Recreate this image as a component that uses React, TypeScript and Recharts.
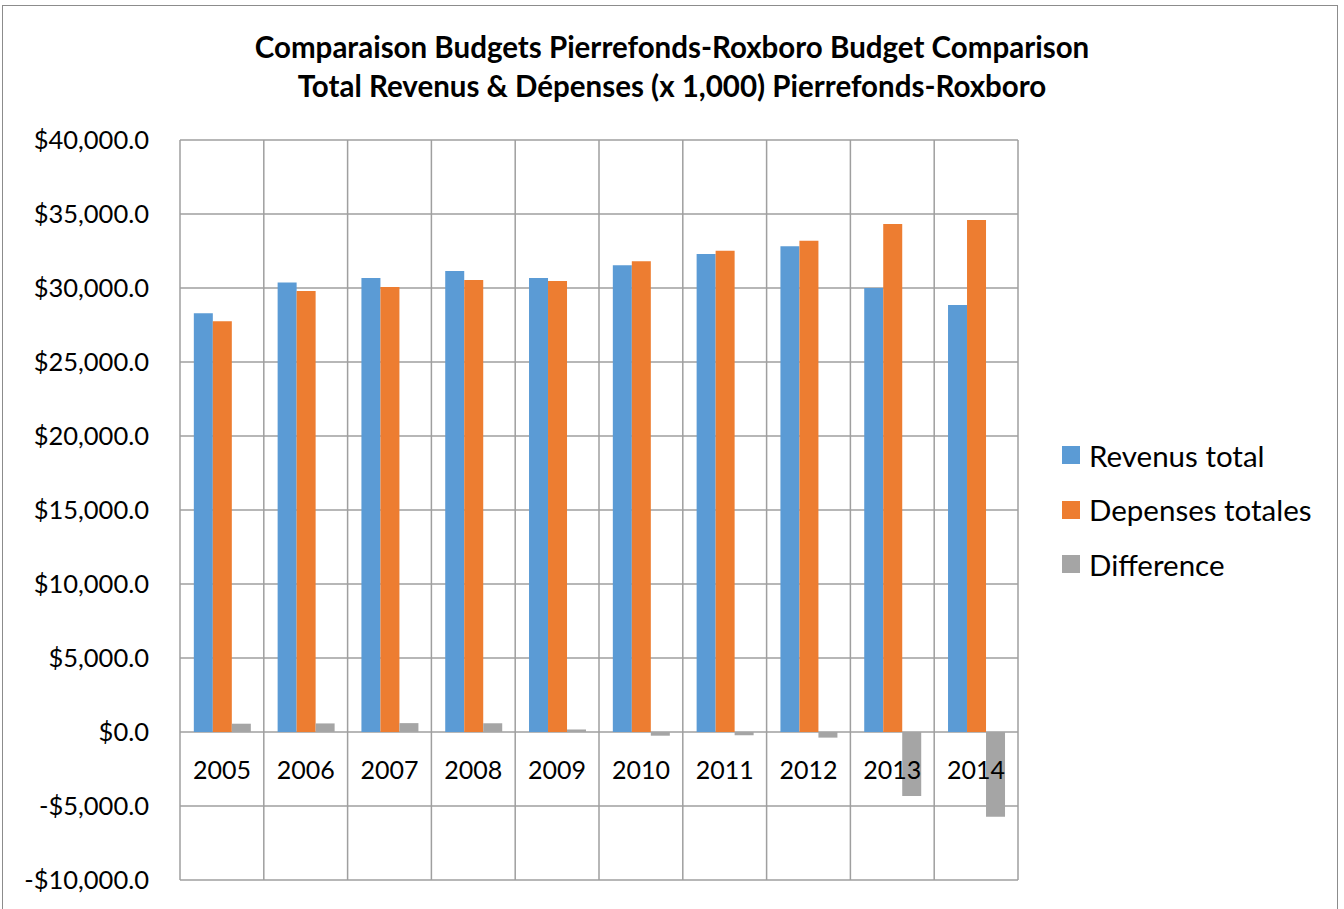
import React from 'react';
import {
  BarChart,
  Bar,
  XAxis,
  YAxis,
  CartesianGrid,
  Legend,
} from 'recharts';

const years = ['2005', '2006', '2007', '2008', '2009', '2010', '2011', '2012', '2013', '2014'];
const revenusTotal = [28300, 30380, 30680, 31150, 30680, 31530, 32300, 32820, 30000, 28850];
const depensesTotales = [27750, 29800, 30070, 30540, 30470, 31800, 32520, 33200, 34320, 34590];
const difference = [560, 580, 600, 590, 170, -250, -220, -380, -4330, -5730];
const yTicks = [-10000, -5000, 0, 5000, 10000, 15000, 20000, 25000, 30000, 35000, 40000];
const seriesOrder = ['revenus', 'depenses', 'difference'];

const data = years.map((year, i) => ({
  year,
  revenus: revenusTotal[i],
  depenses: depensesTotales[i],
  difference: difference[i],
}));

const W = 1344;
const H = 909;
const PLOT_TOP = 140;
const PLOT_BOTTOM = 880;
const PLOT_LEFT = 180;
const PLOT_RIGHT = 1018;
const Y_MIN = yTicks[0];
const Y_MAX = yTicks[yTicks.length - 1];
const ZERO_Y = PLOT_TOP + ((PLOT_BOTTOM - PLOT_TOP) * Y_MAX) / (Y_MAX - Y_MIN);

const FONT = 'Lato, "Open Sans", sans-serif';
const GRID = '#9f9f9f';

const money = (v: number) => {
  const s = Math.abs(v).toLocaleString('en-US', {
    minimumFractionDigits: 1,
    maximumFractionDigits: 1,
  });
  return (v < 0 ? '-$' : '$') + s;
};

// Excel puts the category labels just under the zero line, not at the bottom
const YearTick = (props: any) => {
  const { x, payload } = props;
  return (
    <text x={x} y={ZERO_Y + 47} textAnchor="middle" fontSize={25} fontFamily={FONT} fill="#000">
      {payload.value}
    </text>
  );
};

const renderLegend = (props: any) => {
  const items = [...(props.payload || [])].sort(
    (a: any, b: any) => seriesOrder.indexOf(a.dataKey) - seriesOrder.indexOf(b.dataKey)
  );
  return (
    <div style={{ fontFamily: FONT }}>
      {items.map((item: any) => (
        <div
          key={item.value}
          style={{ display: 'flex', alignItems: 'center', height: 54.5, fontSize: 29.5, color: '#000' }}
        >
          <span
            style={{ display: 'inline-block', width: 18, height: 18, background: item.color, marginRight: 9 }}
          />
          {item.value}
        </div>
      ))}
    </div>
  );
};

export default function App() {
  return (
    <div style={{ position: 'absolute', left: 0, top: 0, width: W, height: H, background: '#fff' }}>
      <div
        style={{
          position: 'absolute',
          left: 2,
          top: 5,
          width: 1336,
          height: 920,
          border: '1px solid #8c8c8c',
          boxSizing: 'border-box',
        }}
      />
      <div
        style={{
          position: 'absolute',
          left: 0,
          top: 27,
          width: W,
          textAlign: 'center',
          fontFamily: FONT,
          fontWeight: 700,
          fontSize: 29.5,
          lineHeight: '39px',
          color: '#000',
        }}
      >
        <div>Comparaison Budgets Pierrefonds-Roxboro Budget Comparison</div>
        <div>Total Revenus &amp; Dépenses (x 1,000) Pierrefonds-Roxboro</div>
      </div>
      <BarChart
        width={W}
        height={H}
        data={data}
        margin={{ top: PLOT_TOP, right: W - PLOT_RIGHT, bottom: 0, left: 0 }}
        barCategoryGap="16.5%"
        barGap={0}
      >
        <CartesianGrid
          stroke={GRID}
          strokeWidth={1.5}
          verticalCoordinatesGenerator={({ offset }: any) =>
            Array.from({ length: years.length + 1 }, (_, i) => offset.left + (i * offset.width) / years.length)
          }
        />
        <XAxis
          dataKey="year"
          height={H - PLOT_BOTTOM}
          axisLine={false}
          tickLine={false}
          interval={0}
          tick={<YearTick />}
        />
        <YAxis
          width={PLOT_LEFT}
          domain={[Y_MIN, Y_MAX]}
          ticks={yTicks}
          tickFormatter={money}
          axisLine={false}
          tickLine={false}
          tickSize={0}
          tickMargin={31}
          tick={{ fontSize: 25.5, fill: '#000', fontFamily: FONT }}
        />
        <Legend
          layout="horizontal"
          verticalAlign="middle"
          align="center"
          content={renderLegend}
          wrapperStyle={{ left: 1062, top: 428, width: 280, height: 170 }}
        />
        <Bar dataKey="revenus" name="Revenus total" fill="#5b9bd5" isAnimationActive={false} />
        <Bar dataKey="depenses" name="Depenses totales" fill="#ed7d31" isAnimationActive={false} />
        <Bar dataKey="difference" name="Difference" fill="#a5a5a5" isAnimationActive={false} />
      </BarChart>
    </div>
  );
}
